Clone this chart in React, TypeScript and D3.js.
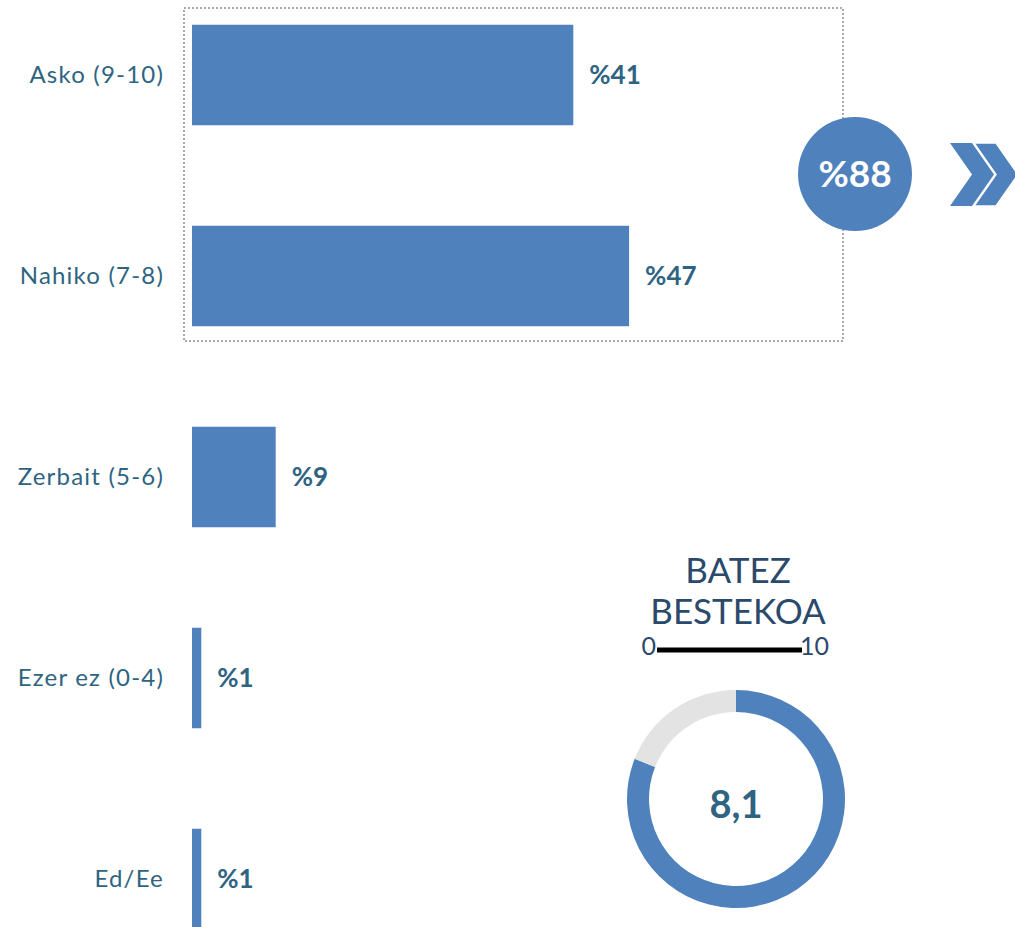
import React from "react";
import * as d3 from "d3";

const categories = ["Asko (9-10)", "Nahiko (7-8)", "Zerbait (5-6)", "Ezer ez (0-4)", "Ed/Ee"];
const values = [41, 47, 9, 1, 1];
const valueLabels = ["%41", "%47", "%9", "%1", "%1"];
const totalLabel = "%88";
const meanValue = 8.1;
const meanMax = 10;
const meanLabel = "8,1";
const meanTitle = ["BATEZ", "BESTEKOA"];
const meanScaleLabels = ["0", "10"];

const W = 1015;
const H = 927;
const BAR = "#4f81bd";
const TXT = "#2e6482";
const NAVY = "#2b4a6b";
const FONT = "'Lato', 'Open Sans', sans-serif";

export default function App() {
  const x = d3.scaleLinear().domain([0, 100]).range([192, 1122]);
  const y = d3
    .scaleBand<string>()
    .domain(categories)
    .range([-25.5, 979.5])
    .paddingInner(0.5)
    .paddingOuter(0.25);

  const cx = 736;
  const cy = 799;
  const pie = d3.pie<number>().sort(null).value((d) => d);
  const arcs = pie([meanValue, meanMax - meanValue]);
  const arc = d3.arc<d3.PieArcDatum<number>>().innerRadius(87).outerRadius(109);

  const meanScale = d3.scaleLinear().domain([0, meanMax]).range([657, 802]);

  const chevron = (x0: number) => {
    const w = 22;
    const d = 22;
    const t = 143;
    const b = 206;
    const m = (t + b) / 2;
    return `M${x0},${t}L${x0 + w},${t}L${x0 + w + d},${m}L${x0 + w},${b}L${x0},${b}L${x0 + d},${m}Z`;
  };

  return (
    <svg
      width={W}
      height={H}
      style={{ position: "absolute", left: 0, top: 0, background: "#fff" }}
      fontFamily={FONT}
    >
      <rect x={184} y={8} width={659} height={333} fill="none" stroke="#555" strokeWidth={1} strokeDasharray="2,2" />
      {categories.map((c, i) => {
        const yy = y(c)!;
        const bw = y.bandwidth();
        return (
          <g key={c}>
            <rect x={x(0)} y={yy} width={x(values[i]) - x(0)} height={bw} fill={BAR} />
            <text
              x={164}
              y={yy + bw / 2}
              dy="0.35em"
              textAnchor="end"
              fontSize={24}
              letterSpacing={1.2}
              fill={TXT}
            >
              {c}
            </text>
            <text x={x(values[i]) + 16} y={yy + bw / 2} dy="0.35em" fontSize={26} fontWeight="bold" fill={TXT}>
              {valueLabels[i]}
            </text>
          </g>
        );
      })}

      <circle cx={855} cy={174} r={57} fill={BAR} />
      <text x={855} y={174} dy="0.35em" textAnchor="middle" fontSize={37} fontWeight="bold" fill="#fff">
        {totalLabel}
      </text>
      <path d={chevron(950)} fill={BAR} />
      <path d={chevron(974)} fill={BAR} stroke="#fff" strokeWidth={1.5} />

      <text x={738} y={583} textAnchor="middle" fontSize={35} fill={NAVY}>
        {meanTitle[0]}
      </text>
      <text x={738} y={624} textAnchor="middle" fontSize={35} fill={NAVY}>
        {meanTitle[1]}
      </text>
      <text x={meanScale(0) - 1} y={655} textAnchor="end" fontSize={25} fill={NAVY}>
        {meanScaleLabels[0]}
      </text>
      <line x1={meanScale(0)} x2={meanScale(meanMax)} y1={650} y2={650} stroke="#000" strokeWidth={5} />
      <text x={meanScale(meanMax) - 2} y={655} textAnchor="start" fontSize={25} fill={NAVY}>
        {meanScaleLabels[1]}
      </text>

      <g transform={`translate(${cx},${cy})`}>
        {arcs.map((a, i) => (
          <path key={i} d={arc(a)!} fill={i === 0 ? BAR : "#e3e3e3"} />
        ))}
        <text y={6} dy="0.35em" textAnchor="middle" fontSize={38} fontWeight="bold" fill={TXT}>
          {meanLabel}
        </text>
      </g>
    </svg>
  );
}
